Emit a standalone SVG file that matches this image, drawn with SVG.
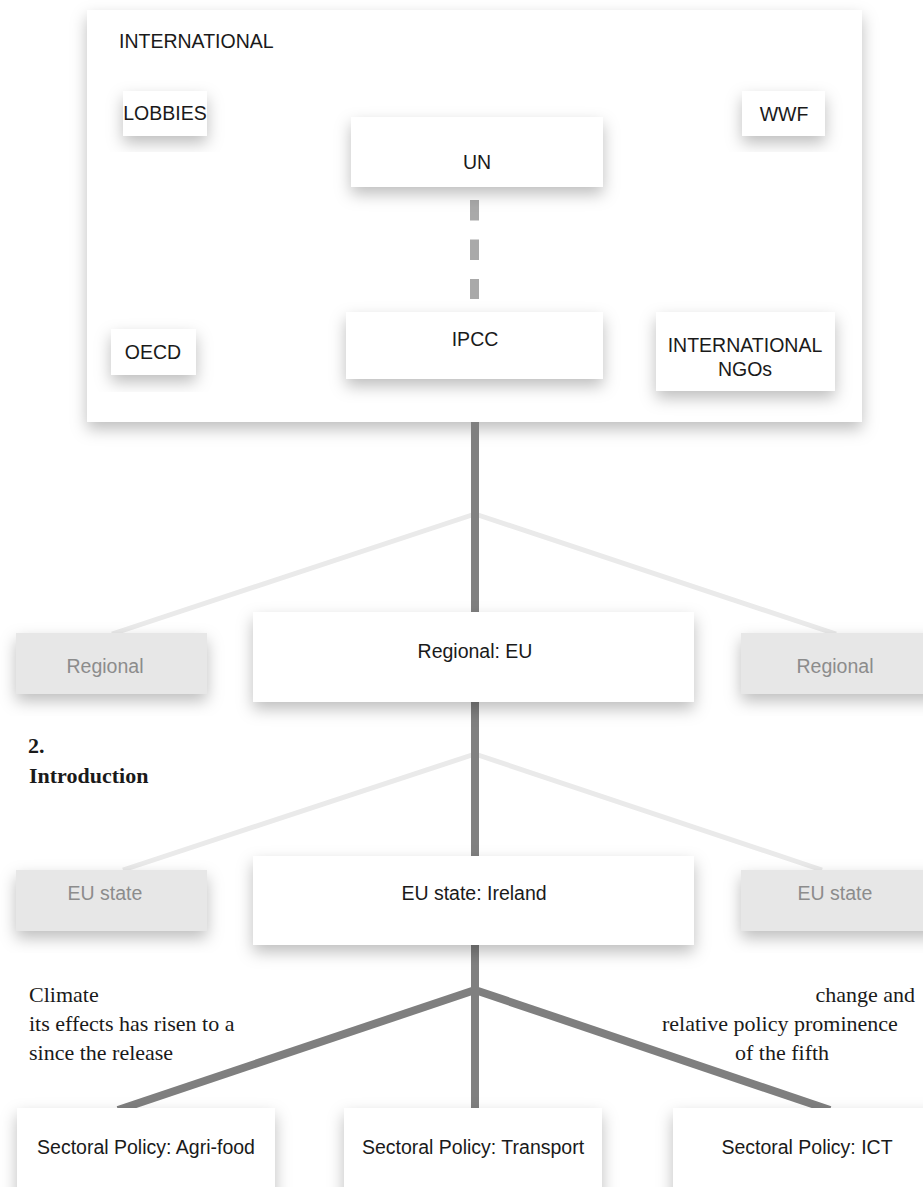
<svg xmlns="http://www.w3.org/2000/svg" width="923" height="1187" viewBox="0 0 923 1187">
<style>
.box{fill:#ffffff;filter:url(#sh)}
.gbox{fill:#e7e7e7;filter:url(#sh)}
.t{font-family:"Liberation Sans",Arial,Helvetica,sans-serif;font-size:19.5px;fill:#1a1a1a;text-anchor:middle}
.tl{text-anchor:start}
.g{fill:#8c8c8c}
.s{font-family:"Liberation Serif","Times New Roman",serif;font-size:22px;fill:#1a1a1a}
.b{font-weight:bold}
.main{stroke:#808080;stroke-width:8;fill:none}
.light{stroke:#eaeaea;stroke-width:5;fill:none}
.thick{stroke:#7f7f7f;stroke-width:8;fill:none}
</style>
<defs>
<filter id="sh" x="-25%" y="-25%" width="150%" height="160%">
<feDropShadow dx="0" dy="7" stdDeviation="8" flood-color="#000" flood-opacity="0.26"/>
</filter>
</defs>
<rect width="923" height="1187" fill="#ffffff"/>
<g id="international">
<rect class="box" x="87" y="10" width="775" height="412"/>
<text class="t tl" x="119" y="48">INTERNATIONAL</text>
</g>
<g id="connectors">
<line x1="474.5" y1="200" x2="474.5" y2="299" stroke="#a9a9a9" stroke-width="9" stroke-dasharray="20.5 19"/>
<line class="light" x1="475" y1="514" x2="112" y2="634"/>
<line class="light" x1="475" y1="514" x2="836" y2="634"/>
<line class="light" x1="475" y1="754" x2="123" y2="870"/>
<line class="light" x1="475" y1="754" x2="822" y2="870"/>
<line class="thick" x1="475" y1="990" x2="118" y2="1110"/>
<line class="thick" x1="475" y1="990" x2="830" y2="1110"/>
<line class="main" x1="475" y1="422" x2="475" y2="1110"/>
</g>
<g id="lobbies"><rect class="box" x="123" y="91" width="84" height="45"/><text class="t" x="165" y="120">LOBBIES</text></g>
<g id="un"><rect class="box" x="351" y="117" width="252" height="70"/><text class="t" x="477" y="169">UN</text></g>
<g id="wwf"><rect class="box" x="742" y="91" width="83" height="45"/><text class="t" x="784" y="121">WWF</text></g>
<g id="oecd"><rect class="box" x="111" y="329" width="85" height="46"/><text class="t" x="153" y="359">OECD</text></g>
<g id="ipcc"><rect class="box" x="346" y="312" width="257" height="67"/><text class="t" x="475" y="346">IPCC</text></g>
<g id="ngos"><rect class="box" x="656" y="312" width="179" height="79"/><text class="t" x="745" y="352">INTERNATIONAL</text><text class="t" x="745" y="376">NGOs</text></g>
<g id="regional-left"><rect class="gbox" x="16" y="633" width="191" height="61"/><text class="t g" x="105" y="673">Regional</text></g>
<g id="regional-eu"><rect class="box" x="253" y="612" width="441" height="90"/><text class="t" x="475" y="658">Regional: EU</text></g>
<g id="regional-right"><rect class="gbox" x="741" y="633" width="200" height="61"/><text class="t g" x="835" y="673">Regional</text></g>
<g id="eustate-left"><rect class="gbox" x="16" y="870" width="191" height="61"/><text class="t g" x="105" y="900">EU state</text></g>
<g id="eustate-ireland"><rect class="box" x="253" y="856" width="441" height="89"/><text class="t" x="474" y="900">EU state: Ireland</text></g>
<g id="eustate-right"><rect class="gbox" x="741" y="870" width="200" height="61"/><text class="t g" x="835" y="900">EU state</text></g>
<g id="sector-agri"><rect class="box" x="17" y="1108" width="258" height="100"/><text class="t" x="146" y="1154">Sectoral Policy: Agri-food</text></g>
<g id="sector-transport"><rect class="box" x="344" y="1108" width="258" height="100"/><text class="t" x="473" y="1154">Sectoral Policy: Transport</text></g>
<g id="sector-ict"><rect class="box" x="673" y="1108" width="270" height="100"/><text class="t" x="807" y="1154">Sectoral Policy: ICT</text></g>
<g id="body-text">
<text class="s b" x="28" y="753">2.</text>
<text class="s b" x="29" y="783">Introduction</text>
<text class="s" x="29" y="1002">Climate</text>
<text class="s" x="29" y="1031">its effects has risen to a</text>
<text class="s" x="29" y="1060">since the release</text>
<text class="s" x="915" y="1002" text-anchor="end">change and</text>
<text class="s" x="662" y="1031">relative policy prominence</text>
<text class="s" x="735" y="1060">of the fifth</text>
</g>
</svg>
